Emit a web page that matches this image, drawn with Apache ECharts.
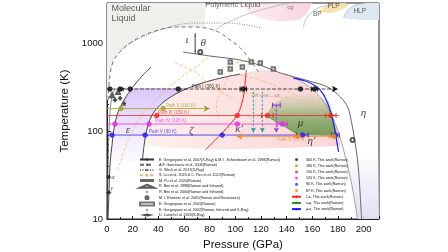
<!DOCTYPE html>
<html>
<head>
<meta charset="utf-8">
<script src="https://cdn.jsdelivr.net/npm/echarts@6.0.0/dist/echarts.min.js"></script>
<style>
  html, body { margin: 0; padding: 0; background: #fff; }
  #phase { width: 448px; height: 252px; }
</style>
</head>
<body>
<div id="phase"></div>
<script>
// every point is [pressure (GPa), temperature (K)]

// shaded zones
const liquidZone = [[0,2850],[0,225],[0.8,225],[2.3,433],[4.7,609],[8.6,750],[11.7,832],[18,1000],[25.8,1170],[37.5,1370],[53.1,1520],[68.8,1520],[76.6,1490],[76.6,2850]];
const polymericZone = [[104,2850],[110,2200],[120,1900],[135,1750],[150,1850],[155,2100],[160,2850]];
const plpZone = [[164.8,2250],[168,2500],[174.2,2780],[185.9,2848],[188.3,2633],[182,2371],[174.2,2193]];
const hlpZone = [[184.4,1923],[187.5,2371],[193.75,2704],[201.6,2848],[212,2848],[212,1825],[197.7,1825]];
const epsZone = [[2.3,41],[3.9,69],[5.5,108],[8.6,164],[13.3,225],[19.5,308],[63.3,308],[50.8,250],[41.4,197],[35.2,152],[31.3,108],[28.9,69],[27.7,47]];
const zetaZone = [[28.9,69],[31.3,108],[35.2,152],[41.4,197],[50.8,250],[63.3,308],[76.6,360],[92.2,411],[103.9,444],[121.1,500],[139.1,444],[150.8,370],[160.9,292],[168,225],[174.2,160],[179.7,103],[182,68],[140,64],[90,62],[50,64]];
const muZone = [[124.2,148],[128.9,203],[139.1,250],[158.6,263],[172.7,225],[175.8,152],[178.1,108],[179.7,88],[149.2,90],[139.1,111]];
const etaZone = [[184.4,61],[189.1,32],[192.2,19],[195.3,10],[212,10],[212,61]];

// literature boundaries
const deltaEps = [[0.8,10],[1.6,21],[2.3,41],[3.9,69],[5.5,108],[8.6,164],[13.3,225],[19.5,308],[27.3,421],[34.4,533]];
const epsZeta = [[27.7,47],[28.9,69],[31.3,108],[35.2,152],[41.4,197],[50.8,250],[63.3,308],[76.6,360],[92.2,411],[103.9,444]];
const alphaLine = [[0.3,10],[0.8,40],[1.8,120],[3.5,230],[6,300]];
const thetaEta = [[59.4,790],[80.5,711],[103.9,641],[121.1,548],[135.2,456],[154.7,380],[171.9,316],[182,243],[187.5,187],[190.6,126],[193,79],[195.3,47],[196.9,24],[198.4,10]];
const etaInner = [[139.1,444],[150.8,370],[160.9,292],[168,225],[174.2,160],[179.7,103],[184.4,61],[189.1,32],[192.2,19],[195.3,10]];
const polyLine = [[82.8,1334],[90,1600],[98.4,1825],[108,2100],[119.5,2371],[135,2700],[142,2850]];
const bpArc = [[153.1,1520],[155.5,1923],[160.2,2290],[166.4,2566],[174.2,2704]];
const hlpArc = [[184.4,1923],[187.5,2371],[193.75,2704],[201.6,2848]];
const melting = [[0.8,225],[2.3,433],[4.7,609],[8.6,750],[11.7,832],[18,1000],[25.8,1170],[37.5,1370],[53.1,1520],[68.8,1520],[80.5,1440],[88.3,1300],[96.1,1080],[103.9,880],[111.7,640],[118,470]];
const weckLine = [[10.2,830],[19.5,1026],[41.4,1405],[67.2,1687],[93.8,1687],[109.4,1600],[120,1480]];
const liuLines = [
  [[8.6,36],[16.4,79],[27.3,152],[41.4,257],[57,400],[72.7,575],[78.9,693]],
  [[53.1,593],[68.75,468],[82.8,316],[100,225]],
  [[85.9,493],[97.7,575],[109.4,641]],
  [[103.9,433],[119.5,380],[135.2,308],[150.8,243]],
  [[103.9,277],[125,250],[150.8,225],[166,190]],
  [[96.1,455],[90.6,316],[86.7,243],[85.2,182],[88.3,133]]
];
const puBar = [[68.75,986]];
const bini1998 = [[3.9,255],[8.6,277]];
const bini2000 = [[6.25,225],[10.2,236]];
const eremets = [[72.7,790],[191.4,79]];
const greg2001 = [[88.3,468],[96.1,609],[96.1,507],[105.5,533],[112.5,609],[119.5,593],[129.7,507]];
const greg2002 = [[13.3,205],[12,300]];
const laniel = [[1.2,30],[1.4,20]];

// this work
const zetaKappa = [[76.6,61],[84.4,79],[89.8,95],[96.1,120],[101.6,152],[104.7,197],[107,277],[107.8,380],[108.6,493]];
const kappaMu = [[124.2,148],[139.1,111],[149.2,90]];
const muEta = [[145.3,400],[154.7,370],[162.5,324],[168,270],[171.9,208],[175,152],[177.3,108],[178.9,79],[180.5,58]];

const pathTemps = [300, 180, 150, 120, 90, 87];
const pathFrom = [0, 0, 0, 0, 0, 180];
const pathTo = [180, 80, 181, 141, 152, 101];
const pathArrow = [true, true, false, false, false, true];
const pathMarks = [
  [2.3,10.2,18,55.5,106.25,150.8,161.7],
  [10.9,43.75],
  [38.8,101.6,125,174.5],
  [6.25,32.8,101.6,136.7],
  [3.9,29.7,89.8,152.3,178],
  [149.2,176.6]
];
const pathErr = [
  [[106.25,300,2.5],[161.7,300,2.5]],
  [],
  [[125,150,4.5],[174.5,150,4]],
  [[136.7,120,4]],
  [[152.3,90,4.5],[178,90,3]],
  [[149.2,87,3.5],[176.6,87,3.5]]
];
const purpleErr = [[132,197,3]];
const dropLines = [[114.1,280,96],[121.1,280,96],[132,197,96]];

// text
const phaseText = [[16.4,103,'ε'],[65.6,100,'ζ'],[103,105,'κ′'],[150.8,123,'μ'],[200,160,'η'],[159.4,77,'η′'],[62.5,1081,'ι'],[75,1000,'θ']];
const tinyGreek = [[4.7,30,'α'],[3.9,22.5,'γ']];
const zoneText = [[3.5,2780,'Molecular\nLiquid'],[76.6,2704,'Polymeric Liquid'],[143,2530,'cg'],[164,2109,'BP'],[176.6,2600,'PLP'],[197,2290,'HLP']];
const pathText = [[66,321,'Path I (300 K)'],[46,195,'Path II (180 K)'],[39.8,162,'Path III (150 K)'],[37.5,130,'Path IV (120 K)'],[32.8,97.5,'Path V (90 K)'],[132.8,79,'Path VI (87 K)']];
const dropText = [[112.5,250,'ν VII'],[119.5,250,'ν VIII'],[130,250,'ν IX']];

const srcGreg07 = 'E. Gregoryanz et al. 2007(X-Ray) & M. I. Scheerboom et al. 1993(Raman)';
const srcGonch = 'A.F. Goncharov et al. 2008(Raman)';
const srcWeck = 'G. Weck et al. 2017(X-Ray)';
const srcLiu = 'S. Liu et al. 2020 & C. Pan et al. 2022(Raman)';
const srcPu = 'M. Pu et al. 2020(Raman)';
const srcBini98 = 'R. Bini et al. 1998(Raman and Infrared)';
const srcBini00 = 'R. Bini et al. 2000(Raman and Infrared)';
const srcEremets = 'M. I. Eremets et al. 2001(Raman and Resistance)';
const srcGreg01 = 'E. Gregoryanz et al. 2001(Raman)';
const srcGreg02 = 'E. Gregoryanz et al. 2002(Raman, Infrared and X-Ray)';
const srcLaniel = 'D. Laniel et al. 2023(X-Ray)';
const pathNames = ['300 K, This work(Raman)','180 K, This work(Raman)','150 K, This work(Raman)','120 K, This work(Raman)','90 K, This work(Raman)','87 K, This work(Raman)'];
const lineNames = ['ζ-κ, This work(Raman)','κ-μ, This work(Raman)','μ-η, This work(Raman)'];
const pathColors = ['#111','#a3a326','#ee2a2a','#e62ee6','#2626ee','#f28a26'];

const grad = (x2, y2, stops) => new echarts.graphic.LinearGradient(0, 0, x2, y2,
  stops.map((c, i) => ({offset: i / (stops.length - 1), color: c})));

const area = (name, pts, fill) => ({
  name, type: 'custom', data: pts, z: 1, silent: true, clip: true,
  renderItem: (p, api) => {
    if (p.dataIndex !== 0) return null;
    return {type: 'polygon', shape: {points: pts.map(v => api.coord(v))}, style: {fill}};
  }
});

const curve = (name, data, color, width, type, z) => ({
  name, type: 'line', data, smooth: 0.35, symbol: 'none', silent: true, z: z || 3,
  lineStyle: {color, width, type: type || 'solid'}, itemStyle: {color}
});

const marks = (name, data, color, symbol, size) => ({
  name, type: 'scatter', data, symbol, symbolSize: size, silent: true, z: 6,
  itemStyle: {color, borderColor: color}
});

const bars = (name, rows, color) => ({
  name, type: 'custom', data: rows, z: 5, silent: true,
  renderItem: (p, api) => {
    const a = api.coord([api.value(0) - api.value(2), api.value(1)]);
    const b = api.coord([api.value(0) + api.value(2), api.value(1)]);
    const st = {stroke: color, lineWidth: 1};
    return {type: 'group', children: [
      {type: 'line', shape: {x1: a[0], y1: a[1], x2: b[0], y2: b[1]}, style: st},
      {type: 'line', shape: {x1: a[0], y1: a[1] - 2.5, x2: a[0], y2: a[1] + 2.5}, style: st},
      {type: 'line', shape: {x1: b[0], y1: b[1] - 2.5, x2: b[0], y2: b[1] + 2.5}, style: st}
    ]};
  }
});

const texts = (rows, style) => ({
  name: 'txt', type: 'scatter', silent: true, z: 9, symbolSize: 0.1,
  itemStyle: {color: 'transparent'},
  data: rows.map((r, i) => ({value: [r[0], r[1]], name: r[2],
    label: typeof style === 'function' ? style(i) : {}})),
  label: Object.assign({show: true, formatter: '{b}', position: [0, 0], align: 'center', verticalAlign: 'middle', color: '#111'},
    typeof style === 'function' ? {} : style)
});

const series = [
  area('z-liquid', liquidZone, '#efefeb'),
  area('z-poly', polymericZone, grad(1, 0, ['rgba(248,214,228,0.4)', 'rgba(247,205,222,0.9)'])),
  area('z-plp', plpZone, '#f6e1ad'),
  area('z-hlp', hlpZone, '#dfe7f2'),
  area('z-eps', epsZone, grad(0, 1, ['rgba(208,182,246,0.8)', 'rgba(220,200,250,0.5)', 'rgba(232,220,252,0.1)'])),
  area('z-zeta', zetaZone, grad(1, 0, ['rgba(252,228,224,0.55)', 'rgba(250,205,205,0.6)', 'rgba(246,185,190,0.6)'])),
  area('z-mu', muZone, grad(0, 1, ['rgba(170,200,140,0.15)', 'rgba(120,165,90,0.7)', 'rgba(95,145,65,0.85)'])),
  area('z-eta', etaZone, grad(0, 1, ['rgba(226,224,243,0)', 'rgba(224,222,242,0.95)'])),

  curve(srcGreg07, deltaEps, '#333', 0.9),
  curve(srcGreg07, epsZeta, '#444', 1),
  curve(srcGreg07, alphaLine, '#555', 0.7),
  curve(srcGreg07, thetaEta, '#666', 1),
  curve(srcGreg07, etaInner, '#8a8a8a', 0.8),
  curve(srcGreg07, polyLine, '#aaa', 0.7),
  curve(srcGreg07, bpArc, '#aaa', 0.7),
  curve(srcGreg07, hlpArc, '#aaa', 0.7),
  curve(srcGonch, melting, '#666', 0.9, [4, 3]),
  curve(srcWeck, weckLine, '#777', 0.9, [1, 1.5]),
  ...liuLines.map(l => curve(srcLiu, l, '#f5b46a', 0.8, [3, 2])),

  marks(srcPu, puBar, '#444', 'rect', [1, 17]),
  marks(srcBini98, bini1998, '#333', 'emptyTriangle', 4),
  marks(srcBini00, bini2000, '#333', 'path://M4,0h2v4h4v2h-4v4h-2v-4h-4v-2h4z', 4),
  marks(srcEremets, eremets, '#333', 'emptyCircle', 4),
  marks(srcGreg01, greg2001, '#555', 'emptyRect', 3.5),
  marks(srcGreg02, greg2002, '#333', 'path://M5,0L6.2,3.6L10,3.6L7,5.9L8.1,9.5L5,7.3L1.9,9.5L3,5.9L0,3.6L3.8,3.6Z', 4),
  marks(srcLaniel, laniel, '#222', 'diamond', 4),

  curve(lineNames[0], zetaKappa, '#ff2020', 1, 'solid', 4),
  curve(lineNames[1], kappaMu, '#2a8a2a', 0.6, 'solid', 4),
  curve(lineNames[2], muEta, '#1c1cff', 1.2, 'solid', 4)
];

pathTemps.forEach((t, i) => {
  const c = pathColors[i];
  const end = {value: [pathTo[i], t]};
  if (pathArrow[i]) Object.assign(end, {symbol: 'arrow', symbolSize: [5, 6], symbolRotate: pathTo[i] > pathFrom[i] ? -90 : 90});
  series.push({
    name: 'path' + i, type: 'line', silent: true, z: 4, symbol: 'none', showSymbol: true,
    data: [[pathFrom[i], t], end],
    lineStyle: {color: c, width: i === 0 ? 0.8 : 1, opacity: i === 0 ? 0.9 : 0.8, type: i === 0 ? [4, 1.5] : 'solid'},
    itemStyle: {color: c}
  });
  series.push(marks(pathNames[i], pathMarks[i].map(p => [p, t]), c, 'circle', 4.5));
  if (pathErr[i].length) series.push(bars('err' + i, pathErr[i], c));
});
series.push(bars('errp', purpleErr, '#8a2ed6'));

dropLines.forEach((d, i) => {
  const c = i < 2 ? '#2b9a9a' : '#8a2ed6';
  series.push({
    name: 'drop' + i, type: 'line', silent: true, z: 4, symbol: 'none', showSymbol: true,
    data: [[d[0], d[1]], {value: [d[0], d[2]], symbol: 'arrow', symbolSize: [4, 5], symbolRotate: 180}],
    lineStyle: {color: c, width: 0.9, type: [2.5, 1.5]}, itemStyle: {color: c}
  });
});

series.push(texts(phaseText, {fontFamily: 'Liberation Serif', fontStyle: 'italic', fontSize: 11}));
series.push(texts(tinyGreek, {fontFamily: 'Liberation Serif', fontStyle: 'italic', fontSize: 6}));
series.push(texts(zoneText, i => [
  {fontSize: 9, lineHeight: 9.5, align: 'left', verticalAlign: 'top', color: '#333'},
  {fontSize: 7.5, align: 'left', color: '#444'},
  {fontSize: 6, color: '#555'},
  {fontSize: 6.5, color: '#333'},
  {fontSize: 6.5, color: '#333'},
  {fontSize: 6.5, color: '#333'}
][i]));
series.push(texts(pathText, i => ({fontSize: 4.6, align: 'left', color: pathColors[i]})));
series.push(texts(dropText, i => ({fontSize: 3.6, align: 'left', color: i < 2 ? '#2b9a9a' : '#8a2ed6'})));

const leftNames = [srcGreg07, srcGonch, srcWeck, srcLiu, srcPu, srcBini98, srcBini00, srcEremets, srcGreg01, srcGreg02, srcLaniel];
const rightNames = pathNames.concat(lineNames);

const chart = echarts.init(document.getElementById('phase'));
chart.setOption({
  animation: false,
  textStyle: {fontFamily: 'Liberation Sans, Arial, sans-serif'},
  grid: {left: 107, right: 69, top: 3, bottom: 33, show: true, borderColor: '#222', borderWidth: 1,
    backgroundColor: 'transparent', outerBoundsMode: 'none'},
  legend: [
    {data: leftNames, orient: 'vertical', left: 139, top: 157.5, padding: 0, itemWidth: 14, itemHeight: 3,
      itemGap: 1.25, selectedMode: false, textStyle: {fontSize: 3.7, lineHeight: 3, color: '#111', padding: 0}},
    {data: rightNames, orient: 'vertical', left: 291, top: 157.5, padding: 0, itemWidth: 9, itemHeight: 3,
      itemGap: 2.2, selectedMode: false, textStyle: {fontSize: 3.7, lineHeight: 3, color: '#111', padding: 0}}
  ],
  xAxis: {
    type: 'value', min: 0, max: 212, interval: 20,
    name: 'Pressure (GPa)', nameLocation: 'middle', nameGap: 20,
    nameTextStyle: {fontSize: 11.5, color: '#111'},
    axisLine: {show: true, lineStyle: {color: '#222', width: 1}},
    axisTick: {show: true, inside: true, length: 3, lineStyle: {color: '#222'}},
    minorTick: {show: true, splitNumber: 2, length: 2, lineStyle: {color: '#222'}},
    axisLabel: {fontSize: 9.5, color: '#111', margin: 5, showMaxLabel: false},
    splitLine: {show: false}, minorSplitLine: {show: false}
  },
  yAxis: {
    type: 'log', logBase: 10, min: 10, max: 2850,
    name: 'Temperature (K)', nameLocation: 'middle', nameGap: 30,
    nameTextStyle: {fontSize: 11.5, color: '#111'},
    axisLine: {show: true, lineStyle: {color: '#222', width: 1}},
    axisTick: {show: true, inside: true, length: 4, lineStyle: {color: '#222'}},
    minorTick: {show: true, splitNumber: 9, length: 2, lineStyle: {color: '#222'}},
    axisLabel: {fontSize: 9.5, color: '#111', margin: 4, showMaxLabel: false, formatter: v => String(Math.round(v))},
    splitLine: {show: false}, minorSplitLine: {show: false}
  },
  series
});
</script>
</body>
</html>
